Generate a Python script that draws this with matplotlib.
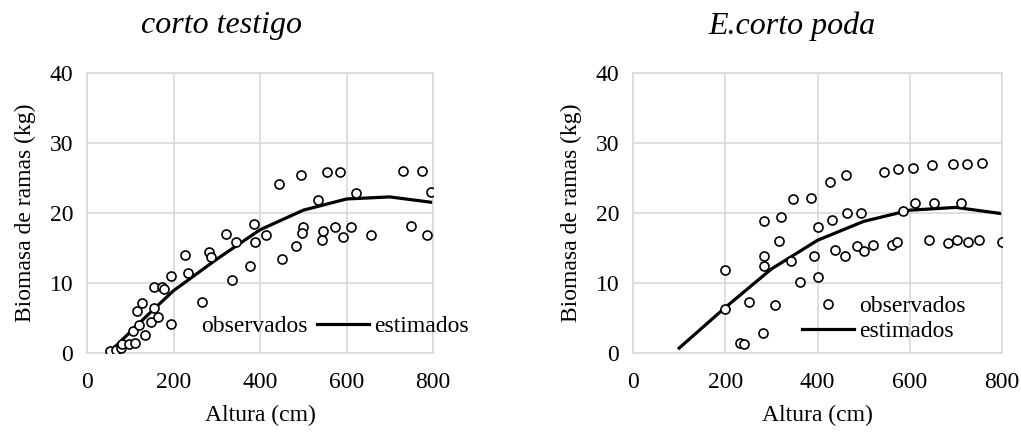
import matplotlib

matplotlib.use("Agg")
import matplotlib.pyplot as plt

plt.rcParams["font.family"] = ["Liberation Serif", "DejaVu Serif"]

# corto testigo: observed points and fitted curve
testigo_x = [53, 67, 78, 80, 96, 111, 106, 120, 134, 115, 128, 147, 156, 165,
             156, 174, 179, 194, 227, 234, 267, 283, 286, 321, 344, 335, 378,
             386, 388, 414, 444, 450, 484, 494, 500, 496, 535, 556, 585, 543,
             546, 574, 593, 611, 621, 656, 731, 775, 748, 785, 795]
testigo_y = [0.3, 0.4, 0.7, 1.3, 1.3, 1.5, 3.2, 4.0, 2.6, 6.0, 7.1, 4.4, 6.5, 5.1,
             9.5, 9.5, 9.2, 11.0, 14.0, 11.5, 7.3, 14.5, 13.7, 17.0, 15.9, 10.5, 12.4,
             18.5, 15.9, 16.8, 24.1, 13.5, 15.3, 25.4, 18.0, 17.2, 21.9, 25.9, 25.9, 16.1,
             17.5, 18.0, 16.6, 18.0, 22.8, 16.8, 26.0, 26.0, 18.2, 16.9, 23.0]
testigo_fit_x = [55, 100, 150, 200, 300, 400, 500, 600, 700, 800]
testigo_fit_y = [0.3, 3.0, 6.0, 8.9, 13.4, 17.6, 20.4, 22.0, 22.3, 21.5]

# E.corto poda: observed points and fitted curve
poda_x = [200, 200, 231, 240, 252, 281, 283, 283, 285, 307, 316, 321, 343, 347,
          363, 386, 402, 392, 402, 427, 432, 438, 459, 462, 463, 485, 495, 501,
          521, 544, 562, 572, 575, 608, 585, 612, 642, 649, 652, 682, 694, 702,
          711, 724, 727, 751, 756, 800]
poda_y = [11.8, 6.3, 1.5, 1.3, 7.3, 2.9, 13.9, 12.5, 18.9, 6.9, 16.0, 19.4, 13.1, 22.0,
          10.2, 22.1, 10.9, 13.9, 18.0, 24.5, 19.0, 14.7, 13.8, 25.4, 20.0, 15.3, 20.0, 14.6,
          15.4, 25.9, 15.4, 15.9, 26.3, 26.5, 20.3, 21.4, 16.1, 26.8, 21.4, 15.7, 27.0, 16.1,
          21.4, 27.0, 15.8, 16.2, 27.1, 15.9]
poda_fit_x = [100, 200, 300, 400, 500, 600, 700, 800]
poda_fit_y = [0.7, 6.5, 12.0, 16.1, 18.8, 20.4, 20.8, 19.9]

FS = 17
GRID = "#d9d9d9"

fig = plt.figure(figsize=(10.21, 4.34), dpi=100)
ax1 = fig.add_axes([87 / 1021, 81 / 434, 346 / 1021, 280 / 434])
ax2 = fig.add_axes([633 / 1021, 81 / 434, 369 / 1021, 280 / 434])

panels = [
    (ax1, testigo_x, testigo_y, testigo_fit_x, testigo_fit_y),
    (ax2, poda_x, poda_y, poda_fit_x, poda_fit_y),
]
for ax, x, y, fx, fy in panels:
    ax.plot(x, y, "o", ms=6.5, mfc="white", mec="black", mew=1.2,
            label="observados", zorder=3)
    ax.plot(fx, fy, "-", color="black", lw=2.3, label="estimados", zorder=2)
    ax.set_xlim(0, 800)
    ax.set_ylim(0, 40)
    ax.set_xticks(range(0, 801, 200))
    ax.set_yticks(range(0, 41, 10))
    ax.grid(True, color=GRID, lw=1.2)
    ax.set_axisbelow(True)
    for s in ax.spines.values():
        s.set_color(GRID)
        s.set_linewidth(1.2)
    ax.tick_params(length=0, labelsize=FS, pad=10)
    ax.tick_params(axis="x", pad=14)
    ax.set_xlabel("Altura (cm)", fontsize=FS, labelpad=8)
    ax.set_ylabel("Biomasa de ramas (kg)", fontsize=FS, labelpad=10)

ax1.legend(loc="center", bbox_to_anchor=(0.635, 0.096), ncol=2, frameon=False,
           fontsize=FS, handlelength=2.2, handletextpad=0.2, columnspacing=0.4,
           borderpad=0)
ax2.legend(loc="center", bbox_to_anchor=(0.68, 0.121), ncol=1, frameon=False,
           fontsize=FS, handlelength=2.2, handletextpad=0.2, labelspacing=0.15,
           borderpad=0)

fig.text(221 / 1021, 1 - 26 / 434, "corto testigo", fontsize=23, style="italic",
         ha="center", va="center")
fig.text(792 / 1021, 1 - 26 / 434, "E.corto poda", fontsize=23, style="italic",
         ha="center", va="center")

fig.savefig("out.png", dpi=100)
